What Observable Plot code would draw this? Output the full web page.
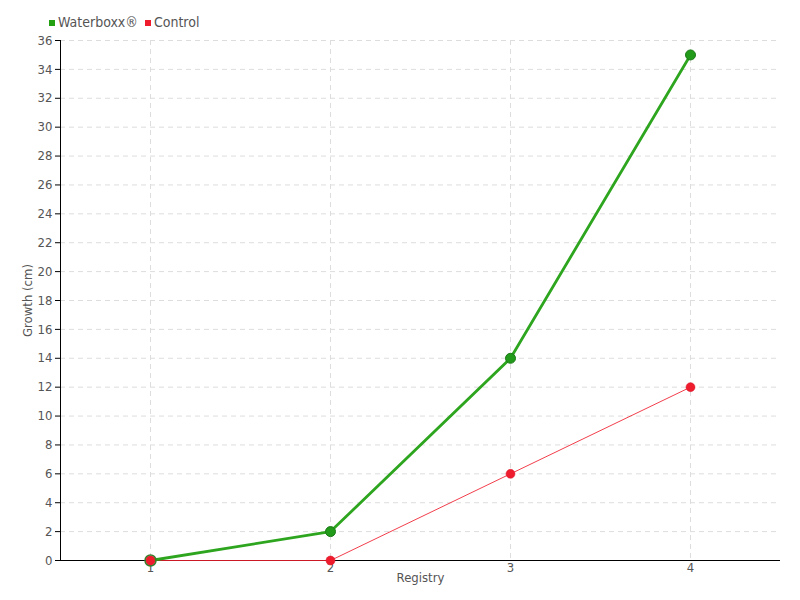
<!DOCTYPE html>
<html><head><meta charset="utf-8">
<script src="https://cdn.jsdelivr.net/npm/d3@7"></script>
<script src="https://cdn.jsdelivr.net/npm/@observablehq/plot@0.6"></script>
<style>
body{margin:0;background:#fff;font-family:"DejaVu Sans Condensed",sans-serif;}
#wrap{position:relative;width:800px;height:600px;}
#legend{position:absolute;left:49px;top:14px;font-size:14px;color:#555;display:flex;gap:7px;align-items:center;}
#legend span.sw{display:inline-block;width:6px;height:6px;margin-right:3px;vertical-align:middle;}
</style></head><body>
<div id="wrap"><div id="legend"></div></div>
<script>
const registry = [1, 2, 3, 4];
const waterboxx = [0, 2, 14, 35];
const control = [0, 0, 6, 12];
const yTicks = d3.range(0, 37, 2);
const seriesNames = ["Waterboxx®", "Control"];
const seriesColors = ["#22a012", "#ee1c2c"];

const wData = registry.map((r, i) => ({r, v: waterboxx[i]}));
const cData = registry.map((r, i) => ({r, v: control[i]}));

const chart = Plot.plot({
  width: 800, height: 600,
  marginTop: 40, marginRight: 20, marginBottom: 40, marginLeft: 60,
  style: {fontFamily: '"DejaVu Sans Condensed",sans-serif', fontSize: "13px", color: "#555", background: "#fff"},
  x: {domain: [0.5, 4.5], ticks: registry, tickFormat: d3.format("d"), label: null},
  y: {domain: [0, 36], ticks: yTicks, label: null},
  marks: [
    Plot.gridY(yTicks, {stroke: "#ddd", strokeOpacity: 1, strokeDasharray: "5,4"}),
    Plot.gridX(registry, {stroke: "#ddd", strokeOpacity: 1, strokeDasharray: "5,4"}),
    Plot.ruleX([0.5], {stroke: "#000"}),
    Plot.ruleY([0], {stroke: "#000"}),
    Plot.axisY({ticks: yTicks, tickSize: 5, tickPadding: 3, stroke: "#000", fill: "#555", label: null, fontSize: 13}),
    Plot.axisX({ticks: registry, tickSize: 0, tickPadding: 2, tickFormat: d3.format("d"), fill: "#555", label: null, fontSize: 13}),
    Plot.line(cData, {x: "r", y: "v", stroke: seriesColors[1], strokeWidth: 1, strokeOpacity: 0.85}),
    Plot.dot(cData, {x: "r", y: "v", r: 4.5, fill: seriesColors[1], stroke: "#d8152a", strokeWidth: 0.5}),
    Plot.line(wData, {x: "r", y: "v", stroke: seriesColors[0], strokeWidth: 2.8, strokeOpacity: 0.95}),
    Plot.dot(wData.filter(d => d.r !== 1), {x: "r", y: "v", r: 5, fill: "#229a1a", stroke: "#1c7a18", strokeWidth: 1}),
    Plot.dot(wData.filter(d => d.r === 1), {x: "r", y: "v", r: 5.5, fill: "none", stroke: "#3a7a2a", strokeWidth: 1.5}),
    Plot.dot(cData.filter(d => d.r === 1), {x: "r", y: "v", r: 4.5, fill: seriesColors[1]}),
    Plot.text(["Registry"], {frameAnchor: "bottom", dy: 21, fill: "#555", fontSize: 13}),
    Plot.text(["Growth (cm)"], {frameAnchor: "left", dx: -33, rotate: -90, textAnchor: "middle", fill: "#555", fontSize: 13})
  ]
});
document.getElementById("wrap").appendChild(chart);
const legend = document.getElementById("legend");
seriesNames.forEach((n, i) => {
  const s = document.createElement("span");
  s.innerHTML = `<span class="sw" style="background:${seriesColors[i]}"></span>${n}`;
  legend.appendChild(s);
});
</script>
</body></html>
